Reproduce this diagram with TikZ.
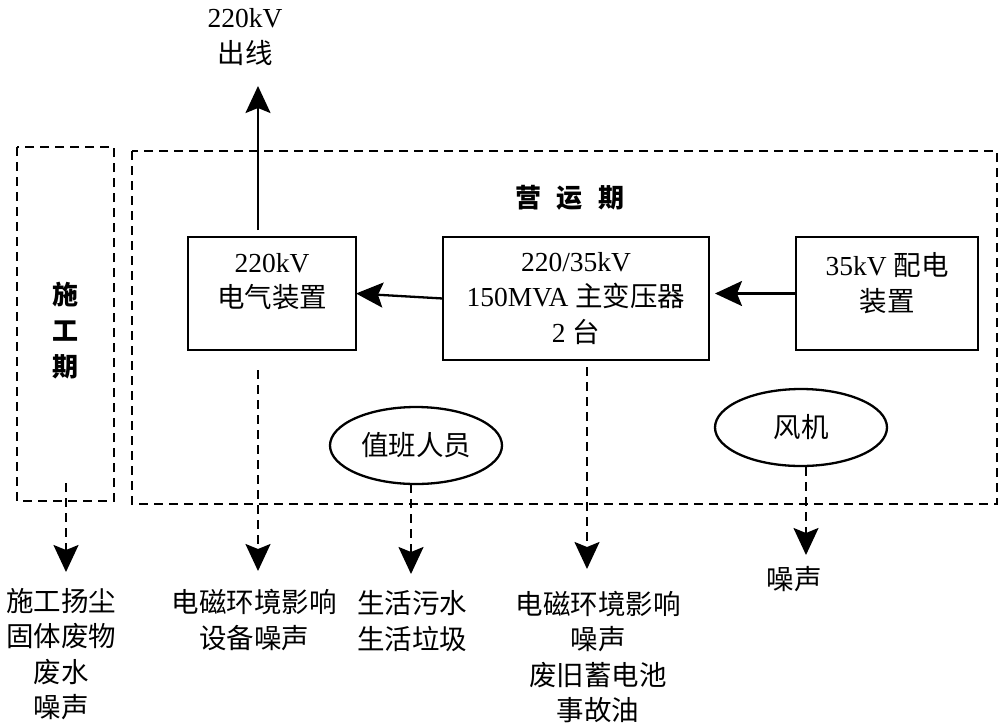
\documentclass[tikz,border=0pt]{standalone}
\usepackage{fontspec}
\setmainfont{Liberation Serif}
\newfontfamily\cjk{Noto Sans CJK SC}
\newcommand\zh[1]{{\cjk #1}}
\usetikzlibrary{arrows.meta,shapes.geometric,calc}
\begin{document}
\begin{tikzpicture}[x=1pt,y=-1pt,
  every node/.style={font=\fontsize{27.5}{35.5}\selectfont, inner sep=0pt, outer sep=0pt},
  lw/.style={line width=2.3pt},
  dsh/.style={lw, dash pattern=on 9pt off 6pt},
  box/.style={draw, lw, rectangle, align=center},
  oval/.style={draw, lw, ellipse, minimum width=172pt, minimum height=77pt},
  lab/.style={align=center},
  tip/.tip={Stealth[length=27pt,width=25pt,inset=5pt]},
  arr/.style={lw, -tip},
  darr/.style={dsh, -tip},
  ttl/.style={font=\fontsize{26}{36}\selectfont\bfseries}
]
\useasboundingbox (0,0) rectangle (1001,724);
% frames
\draw[dsh] (17,147) rectangle (114,501);
\draw[dsh] (132,151) rectangle (997,504);
\node[ttl, align=center] (sg) at (65,331) {\zh{施}\\\zh{工}\\\zh{期}};
\node[ttl] (yy) at (570,198) {\zh{营}\hspace{16pt}\zh{运}\hspace{16pt}\zh{期}};
% boxes
\node[box, minimum width=168pt, minimum height=113pt, text depth=26pt] (b220) at (272,293.5) {220kV\\\zh{电气装置}};
\node[box, minimum width=266pt, minimum height=123pt] (tr) at (576,298.5) {220/35kV\\150MVA \zh{主变压器}\\2 \zh{台}};
\node[box, minimum width=182pt, minimum height=113pt, text depth=23pt] (d35) at (887,293.5) {35kV \zh{配电}\\\zh{装置}};
\node[oval] (zb) at (416,445.5) {\raisebox{4pt}{\zh{值班人员}}};
\node[oval] (fj) at (801,427.5) {\raisebox{-6pt}{\zh{风机}}\hspace{-8pt}};
% top output
\node[lab] (out) at (245,37) {220kV\\\zh{出线}};
\coordinate (upS) at (258,230);
\coordinate (upE) at (258,86);
\draw[arr] (upS) -- (upE);
% power flow
\draw[arr] (tr.west) -- (b220.east);
\draw[arr, shorten >=6pt] (d35.west) -- (d35.west -| tr.east);
% outputs
\node[lab] (o1) at (61,654) {\zh{施工扬尘}\\\zh{固体废物}\\\zh{废水}\\\zh{噪声}};
\node[lab] (o2) at (254,620) {\zh{电磁环境影响}\\\zh{设备噪声}};
\node[lab] (o3) at (412,621) {\zh{生活污水}\\\zh{生活垃圾}};
\node[lab] (o4) at (598,657) {\zh{电磁环境影响}\\\zh{噪声}\\\zh{废旧蓄电池}\\\zh{事故油}};
\node[lab] (o5) at (794,579) {\zh{噪声}};
\coordinate (s1) at (66,483);   \coordinate (e1) at (66,572);
\coordinate (s2) at (258,370);  \coordinate (e2) at (258,571);
\coordinate (s3) at (411,484);  \coordinate (e3) at (411,574);
\coordinate (s4) at (587,367);  \coordinate (e4) at (587,569);
\coordinate (s5) at (806,467);  \coordinate (e5) at (806,555);
\draw[darr] (s1) -- (e1);
\draw[darr] (s2) -- (e2);
\draw[darr] (s3) -- (e3);
\draw[darr] (s4) -- (e4);
\draw[darr] (s5) -- (e5);
\end{tikzpicture}
\end{document}
